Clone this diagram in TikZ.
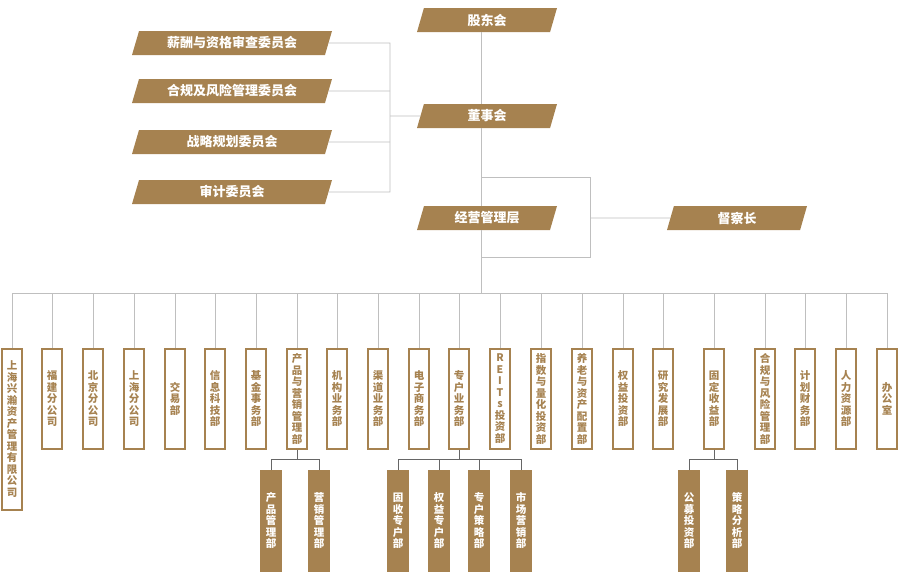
\documentclass[tikz,border=0pt]{standalone}
\usepackage{fontspec}
\setmainfont{Noto Sans CJK SC}
\usetikzlibrary{shapes.geometric,positioning}
\definecolor{gold}{HTML}{A68250}
\tikzset{x=1pt, y=-1pt,
  slab/.style={trapezium, trapezium left angle=61, trapezium right angle=119, trapezium stretches body,
    fill=gold, text=white, font=\fontsize{13}{13}\bfseries\selectfont, minimum height=24pt, minimum width=140pt, inner sep=0pt},
  dept/.style={draw=gold, line width=1.6pt, fill=white, text=gold, minimum width=20pt, minimum height=100pt,
    inner sep=0pt, text width=20pt, align=center, anchor=north, font=\fontsize{10.5}{11.5}\bfseries\selectfont},
  sub/.style={dept, fill=gold, text=white},
  link/.style={draw=black!25, line width=0.9pt},
  sublink/.style={draw=black!60, line width=0.9pt}}
\def\vt#1{\vtaux#1\relax}
\def\vtaux#1{\ifx#1\relax\else#1\par\expandafter\vtaux\fi}
\def\vtx#1{\expandafter\vt\expandafter{#1}}
\begin{document}
\begin{tikzpicture}
\useasboundingbox (0,0) rectangle (900,576);
% upper levels
\node [slab] (gd) at (487,20) {股东会};
\node [slab] (dsh) at (487,116) {董事会};
\node [slab] (jy) at (487,218) {经营管理层};
\node [slab] (dcz) at (737,218) {督察长};
\node [slab, minimum width=200pt] (xc) at (232,43) {薪酬与资格审查委员会};
\node [slab, minimum width=200pt] (hg) at (232,91) {合规及风险管理委员会};
\node [slab, minimum width=200pt] (zl) at (232,142) {战略规划委员会};
\node [slab, minimum width=200pt] (sj) at (232,192) {审计委员会};
\coordinate (bus) at (481,293);
\draw [link] (gd.south -| bus) -- (dsh.north -| bus);
\draw [link] (dsh.south -| bus) -- (jy.north -| bus);
\draw [link] (jy.south -| bus) -- (bus);
\draw [link] (xc.east) -- (390,43) -- (390,192) -- (sj.east);
\draw [link] (hg.east) -- (390,91);
\draw [link] (zl.east) -- (390,142);
\draw [link] (390,116) -- (dsh.west);
\draw [link] (481,177) -- (590,177) -- (590,257) -- (481,257);
\draw [link] (590,218) -- (dcz.west);
% departments
\draw [link] (12,293) -- (887,293);
\node [dept, minimum height=161pt] (d1) at (12,348) {\vt{上海兴瀚资产管理有限公司}};
\draw [link] (12,293) -- (d1.north);
\foreach \x/\name/\txt in {52/d2/福建分公司, 93/d3/北京分公司, 134/d4/上海分公司,
    175/d5/交易部, 215/d6/信息科技部, 256/d7/基金事务部, 297/d8/产品与营销管理部, 337/d9/机构业务部,
    378/d10/渠道业务部, 419/d11/电子商务部, 459/d12/专户业务部, 500/d13/REITs投资部, 541/d14/指数与量化投资部,
    582/d15/养老与资产配置部, 623/d16/权益投资部, 663/d17/研究发展部, 714/d18/固定收益部,
    765/d19/合规与风险管理部, 805/d20/计划财务部, 846/d21/人力资源部, 887/d22/办公室} {
  \node [dept] (\name) at (\x,348) {\vtx{\txt}};
  \draw [link] (\x,293) -- (\name.north);
}
% sub departments
\foreach \x/\name/\txt in {271/s1/产品管理部, 319/s2/营销管理部, 398/s3/固收专户部,
    439/s4/权益专户部, 479/s5/专户策略部, 521/s6/市场营销部, 689/s7/公募投资部, 737/s8/策略分析部} {
  \node [sub] (\name) at (\x,470) {\vtx{\txt}};
}
\draw [sublink] (d8.south) -- (297,459) (s1.north) |- (s2.north |- 0,459) -- (s2.north);
\draw [sublink] (d12.south) -- (459,459) (s3.north) |- (s6.north |- 0,459) -- (s6.north);
\draw [sublink] (s4.north) -- (439,459) (s5.north) -- (479,459);
\draw [sublink] (d18.south) -- (714,459) (s7.north) |- (s8.north |- 0,459) -- (s8.north);
\end{tikzpicture}
\end{document}
